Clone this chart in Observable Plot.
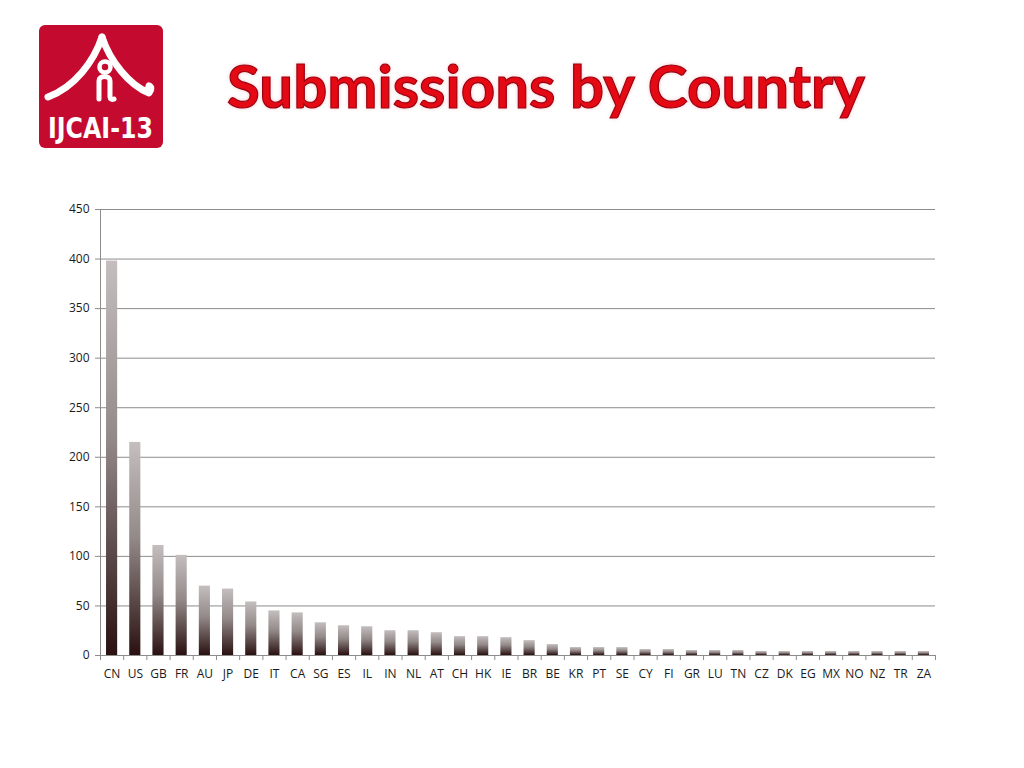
<!DOCTYPE html>
<html><head><meta charset="utf-8">
<script src="https://cdn.jsdelivr.net/npm/d3@7"></script>
<script src="https://cdn.jsdelivr.net/npm/@observablehq/plot@0.6"></script>
<style>
body{margin:0;background:#fff;width:1024px;height:768px;position:relative;overflow:hidden;font-family:"Open Sans",sans-serif}
#logo{position:absolute;left:39px;top:25px}
#title{position:absolute;left:0;top:49px;width:1092px;text-align:center;font-family:Lato,"Open Sans",sans-serif;font-weight:700;font-size:60px;line-height:72px;color:#e50914;-webkit-text-stroke:1.2px #9a0010;text-shadow:0 0 2px #fff,0 0 4px #f3b3b8}
#chart{position:absolute;left:0;top:190px}
</style></head>
<body>
<svg id="logo" width="124" height="123" viewBox="0 0 124 123">
  <rect x="0" y="0" width="124" height="123" rx="6" fill="#c40b2f"/>
  <g fill="none" stroke="#fff" stroke-linecap="round" stroke-linejoin="round">
    <path stroke-width="7" d="M63,12 C55,36 36,62 9,72"/>
    <path stroke-width="7" d="M63,12 C71,36 90,60 110,68 C113,64 112,62 110,61"/>
    <circle stroke-width="4.5" cx="66" cy="42" r="5.5"/>
    <path stroke-width="5" d="M60,74 L60,56 C60,50 71,50 71,56 L71,72 C71,74 73,75 75,74"/>
  </g>
  <text x="61.5" y="113" text-anchor="middle" fill="#fff" font-family="'DejaVu Sans Condensed','DejaVu Sans',sans-serif" font-weight="700" font-size="28" textLength="105" lengthAdjust="spacingAndGlyphs">IJCAI-13</text>
</svg>
<div id="title">Submissions by Country</div>
<div id="chart"></div>
<script>
const countries = ["CN","US","GB","FR","AU","JP","DE","IT","CA","SG","ES","IL","IN","NL","AT","CH","HK","IE","BR","BE","KR","PT","SE","CY","FI","GR","LU","TN","CZ","DK","EG","MX","NO","NZ","TR","ZA"];
const submissions = [398,215,111,101,70,67,54,45,43,33,30,29,25,25,23,19,19,18,15,11,8,8,8,6,6,5,5,5,4,4,4,4,4,4,4,4];
const yTicks = [0,50,100,150,200,250,300,350,400,450];

const data = countries.map((c, i) => ({country: c, value: submissions[i]}));
const W = 1000, ML = 100, MR = 65, H = 511, MT = 19, MB = 46;
const step = (W - ML - MR) / countries.length;
const gridColor = "#8c8c8c";

const chart = Plot.plot({
  width: W, height: H,
  marginLeft: ML, marginRight: MR, marginTop: MT, marginBottom: MB,
  style: {fontFamily: "'Open Sans', sans-serif", fontSize: "12px", color: "#1a1a1a", background: "transparent"},
  x: {domain: countries, paddingInner: 0.52, paddingOuter: 0.26, round: false, label: null},
  y: {domain: [0, 450], label: null},
  marks: [
    Plot.gridY(yTicks, {stroke: gridColor, strokeOpacity: 1}),
    Plot.barY(data, {x: "country", y: "value", fill: "url(#barGrad)"}),
    Plot.ruleY([0], {stroke: gridColor}),
    Plot.ruleX([countries[0]], {dx: -step / 2, y1: 0, y2: 450, stroke: gridColor}),
    Plot.axisY(yTicks, {tickSize: 5, tickPadding: 6, stroke: gridColor, label: null}),
    Plot.axisX({tickSize: 0, tickPadding: 14, label: null}),
    Plot.axisX({tickSize: 5, tickFormat: () => "", dx: -step / 2, stroke: gridColor, label: null}),
    Plot.axisX([countries[countries.length - 1]], {tickSize: 5, tickFormat: () => "", dx: step / 2, stroke: gridColor, label: null})
  ]
});

d3.select(chart).insert("defs", ":first-child").html(
  `<linearGradient id="barGrad" x1="0" y1="0" x2="0" y2="1">
     <stop offset="0%" stop-color="#c4bebe"/>
     <stop offset="45%" stop-color="#938989"/>
     <stop offset="100%" stop-color="#2a1010"/>
   </linearGradient>`
);
document.getElementById("chart").appendChild(chart);
</script>
</body></html>
